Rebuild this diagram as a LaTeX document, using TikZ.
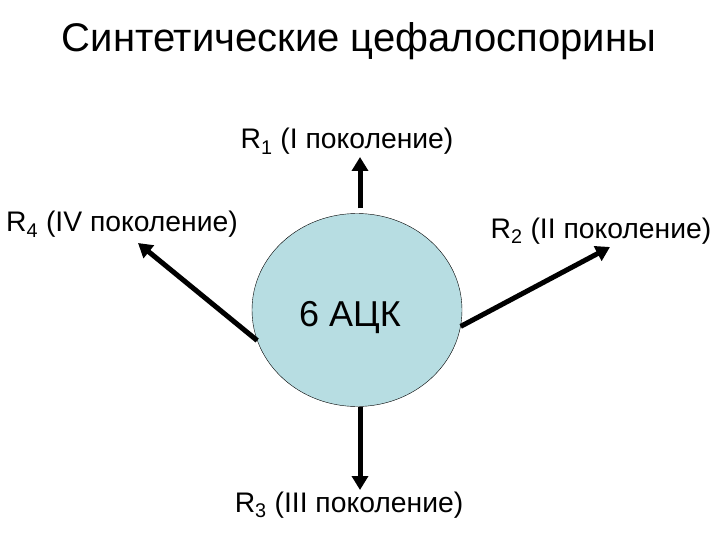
\documentclass[tikz,border=0pt]{standalone}
\usepackage{fontspec}
\setmainfont{Liberation Sans}
\usetikzlibrary{positioning, arrows.meta, shapes.geometric}

\begin{document}
\begin{tikzpicture}[
  x=1pt, y=-1pt,
  ttl/.style={anchor=base, font=\fontsize{40}{44}\selectfont},
  lbl/.style={anchor=base, font=\fontsize{28.3}{32}\selectfont},
  core/.style={draw, ellipse, thin, fill={rgb,255:red,183;green,221;blue,226},
    minimum width=210pt, minimum height=193pt, inner sep=0pt},
  arr/.style={-{Triangle[length=14pt, width=16pt]}, line width=5pt},
]
  \useasboundingbox (0,0) rectangle (720,540);
  % title
  \node[ttl] (title) at (359,52) {Синтетические цефалоспорины};
  % nucleus
  \node[core] (core) at (357,310) {};
  \node[anchor=base, font=\fontsize{36}{40}\selectfont] (acid) at (350,326) {6 АЦК};
  % generation labels
  \node[lbl] (r1) at (347,149) {R\textsubscript{1} (I поколение)};
  \node[lbl] (r2) at (601,238) {R\textsubscript{2} (II поколение)};
  \node[lbl] (r3) at (349,512) {R\textsubscript{3} (III поколение)};
  \node[lbl] (r4) at (122,232) {R\textsubscript{4} (IV поколение)};
  % arrow tips
  \coordinate (t1) at (360,157);
  \coordinate (t2) at (610,247);
  \coordinate (t3) at (360,490);
  \coordinate (t4) at (138,243);
  % arrows
  \draw[arr, shorten <=5pt] ([xshift=3pt]core.north) -- (t1);
  \draw[arr] (core.351) -- (t2);
  \draw[arr] ([xshift=3pt]core.south) -- (t3);
  \draw[arr] (core.197) -- (t4);
\end{tikzpicture}
\end{document}
